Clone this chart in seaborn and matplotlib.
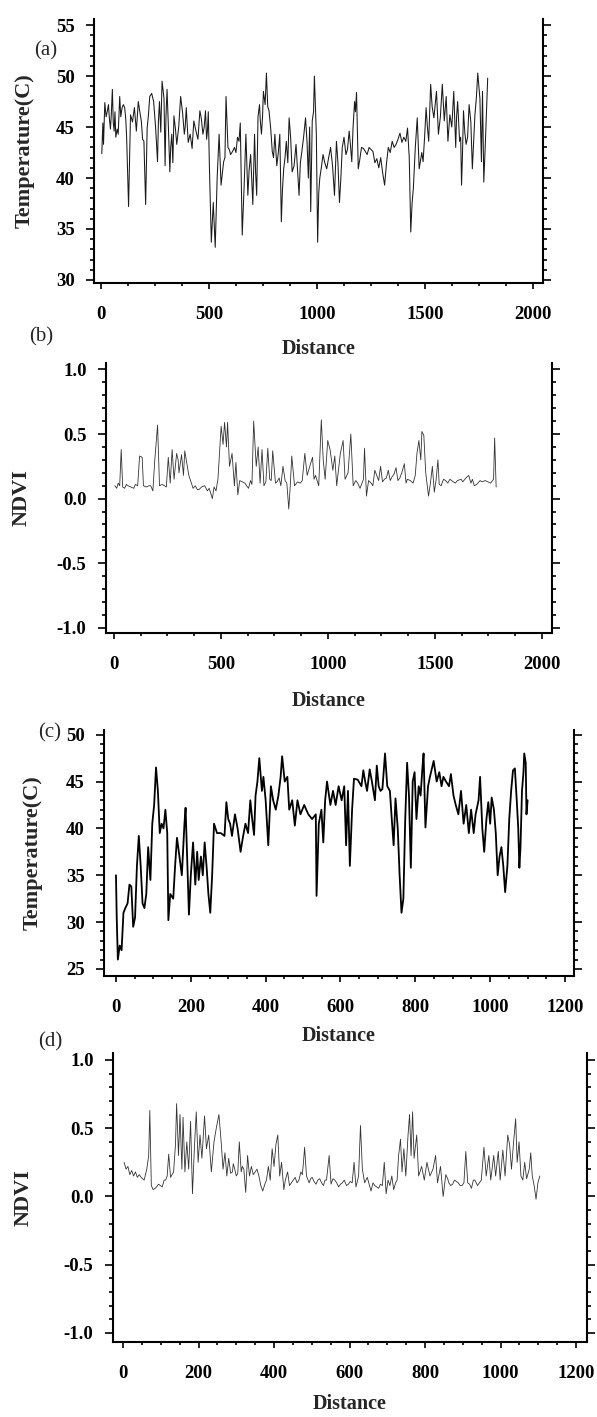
import numpy as np
import pandas as pd
import matplotlib
matplotlib.use("Agg")
import matplotlib.pyplot as plt
from matplotlib.ticker import MultipleLocator, FormatStrFormatter
import seaborn as sns

# ---------------- data ----------------
a_dist = [4,9,12,18,30,39,48,53,61,69,80,87,98,110,119,128,137,155,173,187,199,207,214,226,244,262,271,283,292,297,
          306,319,328,338,351,369,386,395,413,422,440,458,472,484,493,502,511,520,529,538,547,556,568,579,588,600,618,632,645,654,
          663,671,680,693,703,711,721,734,743,752,760,766,778,793,805,814,828,835,846,858,871,885,903,917,930,947,960,971,978,988,
          997,1003,1013,1028,1045,1063,1081,1090,1104,1117,1134,1149,1161,1174,1183,1191,1206,1224,1241,1259,1277,1295,1313,1330,1348,1366,
          1384,1402,1419,1434,1446,1455,1464,1473,1491,1505,1517,1526,1541,1553,1562,1580,1589,1606,1615,1633,1642,1651,1660,1669,
          1678,1690,1704,1719,1731,1744,1754,1761,1772,1779,1790]
a_temp = [42.4,45.4,43.3,47.4,46.6,45.9,46.2,48.7,44.6,44.0,44.3,48.0,46.9,46.9,44.0,37.2,46.2,46.9,47.5,45.6,43.6,37.4,44.9,48.0,47.5,41.6,47.5,49.5,47.8,41.2,
          48.7,40.6,44.3,46.1,43.3,48.0,44.3,46.9,44.3,42.9,44.6,46.6,44.3,46.6,44.6,41.2,33.7,37.6,33.2,40.0,44.3,39.3,41.6,48.0,43.0,42.3,43.0,44.0,45.4,34.4,
          39.3,44.3,38.3,42.3,37.4,44.3,38.3,47.2,44.3,48.5,47.2,50.3,46.6,42.6,44.3,41.2,44.3,35.7,40.9,43.6,45.9,40.6,43.3,38.3,42.6,45.9,40.0,36.7,45.6,50.0,
          44.3,33.7,40.0,42.3,40.9,43.0,38.3,43.6,37.6,43.0,42.3,44.6,41.6,47.5,48.4,40.9,43.0,42.6,43.0,42.6,41.9,42.0,39.3,43.0,43.6,43.3,
          44.4,44.0,44.9,34.7,39.0,43.0,45.9,40.9,41.6,46.9,43.6,49.2,45.9,48.5,44.3,49.2,45.6,43.6,46.2,48.5,43.0,47.5,43.6,39.3,
          46.6,43.3,47.2,40.9,46.2,50.3,47.8,41.6,39.6,43.3,49.8]
# extra small wiggles read between the main points of panel (a)
a_dist_extra = [24,35,44,57,65,75,92,104,115,146,164,180,193,220,235,253,266,277,301,312,323,333,345,360,378,390,404,430,449,465,
                478,489,497,574,594,609,625,639,686,716,727,738,748,772,786,799,821,840,852,865,878,894,910,923,938,954,966,984,1008,1020,
                1036,1054,1072,1097,1110,1125,1141,1155,1167,1178,1198,1215,1232,1250,1268,1286,1304,1322,1339,1357,1375,1393,1411,1427,1440,1485,
                1498,1511,1533,1547,1571,1598,1624,1646,1665,1673,1684,1697,1712,1725,1738,1766]
a_temp_extra = [46.0,47.2,44.8,45.5,46.5,44.8,46.0,47.2,45.8,45.5,44.6,46.5,43.8,46.2,48.3,45.0,45.5,44.5,46.0,45.2,43.0,41.5,44.8,45.0,46.4,45.0,43.5,45.6,43.8,45.8,
                45.0,43.8,46.5,42.0,42.8,42.6,42.5,43.6,40.8,40.5,46.0,45.5,46.0,47.0,44.8,42.0,42.5,38.8,42.0,41.5,44.0,41.2,40.8,41.5,44.0,43.5,45.0,46.5,38.5,41.0,
                41.5,42.0,41.2,41.5,39.8,44.0,42.8,43.2,45.0,46.5,41.8,42.9,42.3,42.8,41.5,41.0,40.5,41.5,42.5,43.0,43.8,43.5,43.6,42.0,37.5,42.5,
                44.0,45.0,47.0,47.2,46.0,48.0,45.0,46.0,44.0,42.0,44.5,44.0,45.5,43.5,48.0,48.5]

b_dist = [4,13,27,34,41,66,93,111,120,132,138,164,182,191,204,213,236,254,263,272,281,293,304,316,325,331,343,358,370,397,
          424,451,460,477,486,501,510,517,526,531,540,552,563,570,579,588,612,629,638,653,665,674,683,692,701,719,728,742,755,772,
          790,808,817,831,844,871,892,903,915,928,942,957,969,978,987,999,1010,1023,1032,1041,1058,1071,1080,1094,1107,1118,1139,1166,1171,1180,
          1202,1219,1237,1246,1264,1282,1300,1318,1336,1357,1371,1398,1416,1425,1434,1439,1448,1457,1470,1479,1488,1497,1514,1529,1550,1586,
          1622,1658,1684,1711,1747,1774,1779,1786]
b_ndvi = [0.10,0.08,0.10,0.38,0.09,0.10,0.08,0.10,0.33,0.32,0.10,0.10,0.06,0.30,0.57,0.10,0.10,0.32,0.12,0.38,0.15,0.35,0.20,0.34,0.18,0.37,0.25,0.14,0.08,0.07,
          0.10,0.05,0.00,0.06,0.15,0.56,0.42,0.59,0.40,0.59,0.25,0.35,0.10,0.28,0.03,0.14,0.12,0.08,0.14,0.60,0.25,0.40,0.12,0.38,0.10,0.39,0.15,0.37,0.12,0.16,
          0.25,0.12,-0.08,0.33,0.10,0.12,0.35,0.18,0.25,0.32,0.18,0.10,0.61,0.30,0.15,0.45,0.38,0.22,0.33,0.10,0.35,0.45,0.15,0.20,0.50,0.10,0.12,0.15,0.39,0.02,
          0.12,0.22,0.14,0.25,0.15,0.22,0.17,0.24,0.16,0.27,0.15,0.12,0.35,0.45,0.30,0.52,0.49,0.20,0.02,0.12,0.25,0.05,0.30,0.10,0.14,0.13,
          0.15,0.18,0.10,0.14,0.13,0.15,0.47,0.09]
b_dist_extra = [20,50,58,80,100,150,172,225,245,300,350,380,390,410,437,445,468,600,620,645,710,735,762,780,800,824,858,880,935,1130,
                1150,1190,1210,1228,1255,1273,1291,1309,1327,1345,1365,1385,1408,1505,1520,1540,1560,1570,1595,1605,1630,1645,1668,1675,1695,1720,1735,1760]
b_ndvi_extra = [0.12,0.08,0.11,0.09,0.11,0.09,0.10,0.11,0.09,0.30,0.18,0.10,0.07,0.09,0.06,0.08,0.09,0.13,0.10,0.11,0.13,0.14,0.13,0.10,0.14,0.10,0.13,0.14,0.15,0.14,
                0.08,0.14,0.10,0.18,0.13,0.16,0.14,0.19,0.14,0.20,0.12,0.14,0.18,0.14,0.11,0.15,0.12,0.15,0.12,0.14,0.13,0.16,0.12,0.15,0.11,0.13,0.14,0.12]

c_dist = [0,2,5,10,15,20,25,31,36,41,46,51,56,61,66,71,76,81,86,92,97,102,107,112,117,122,127,132,137,140,
          145,153,158,163,168,176,183,186,190,195,200,206,212,217,221,227,232,237,242,247,252,257,262,270,280,290,295,300,305,310,
          318,325,333,339,346,353,359,364,369,373,378,383,390,394,400,407,414,420,427,434,440,444,451,458,463,471,478,485,493,503,
          514,524,534,536,542,549,554,559,564,573,580,587,595,603,610,615,620,625,631,636,646,656,661,666,671,678,684,692,697,702,
          707,712,719,725,732,737,742,747,753,758,763,768,773,778,783,788,793,798,803,809,814,819,822,827,834,839,849,857,864,870,
          875,882,890,895,902,908,915,922,929,936,943,949,956,961,969,973,979,984,990,995,1000,1004,1010,1015,1020,1025,1030,1035,1040,1046,
          1051,1056,1061,1066,1071,1075,1078,1081,1085,1089,1091,1095,1097,1100]
c_temp = [35.0,30.5,26.0,27.5,27.0,31.0,31.5,32.0,34.0,33.8,29.5,30.5,36.0,39.2,36.0,32.0,31.5,33.0,38.0,34.5,40.5,42.5,46.5,44.0,39.5,40.5,40.0,42.0,39.5,30.2,
          33.0,32.5,36.0,39.0,37.5,35.0,40.5,42.2,37.0,30.8,35.0,38.5,34.0,37.5,34.5,37.0,35.0,38.5,36.0,33.0,31.0,35.0,40.5,39.5,39.5,39.2,42.8,41.0,40.5,39.2,
          41.5,40.0,37.5,39.0,40.5,39.5,43.0,41.0,39.3,43.5,45.0,47.5,44.0,45.5,43.0,38.2,44.5,43.0,42.0,43.5,45.5,47.7,45.0,45.5,42.0,43.0,40.3,43.0,41.5,42.5,
          41.5,41.0,41.5,32.8,40.5,42.0,38.5,43.0,45.0,42.5,44.0,42.5,44.5,43.0,44.5,38.2,44.0,36.0,42.0,45.3,45.2,44.5,46.2,45.0,44.0,46.3,45.0,43.0,46.7,44.5,
          44.0,44.2,48.0,44.5,44.0,41.0,38.2,43.2,40.0,35.0,31.0,32.5,41.0,47.0,43.5,35.8,45.0,46.0,41.0,44.5,43.5,46.5,48.0,40.1,44.5,45.5,47.2,45.0,46.0,44.5,
          45.5,45.0,44.5,45.8,43.5,42.5,41.5,44.0,40.5,42.5,39.5,42.0,39.5,41.5,43.0,45.5,40.0,37.5,41.0,42.8,40.5,43.3,42.0,39.5,35.0,37.0,38.0,36.0,33.2,36.0,
          41.0,44.0,46.2,46.4,43.0,40.0,35.8,38.0,44.0,46.0,48.0,47.0,41.5,43.0]

d_dist = [3,8,13,18,23,28,33,38,48,56,63,68,71,75,80,89,99,109,117,121,126,134,139,142,147,151,156,159,164,169,
          174,179,184,189,194,199,204,209,216,221,227,234,241,247,254,260,265,270,275,280,285,292,300,308,313,320,325,330,335,340,
          350,360,365,370,377,385,390,395,400,405,410,415,420,426,433,441,451,461,471,478,481,486,493,501,511,521,531,539,546,551,
          561,571,581,592,602,612,617,624,629,634,640,647,657,667,677,687,692,697,702,712,722,730,735,739,744,749,755,759,763,767,
          771,778,783,791,798,805,813,821,828,833,841,848,855,863,873,883,893,903,908,913,923,932,939,949,956,962,969,974,982,987,
          994,999,1006,1012,1019,1024,1029,1034,1040,1044,1049,1054,1059,1064,1069,1076,1080,1084,1089,1094,1099,1104]
d_ndvi = [0.25,0.20,0.22,0.16,0.19,0.15,0.18,0.14,0.14,0.12,0.20,0.30,0.63,0.08,0.05,0.07,0.08,0.12,0.15,0.31,0.14,0.18,0.38,0.68,0.30,0.60,0.20,0.58,0.18,0.40,
          0.20,0.55,0.02,0.35,0.62,0.25,0.45,0.28,0.59,0.35,0.45,0.18,0.40,0.50,0.60,0.40,0.20,0.32,0.15,0.28,0.17,0.24,0.15,0.40,0.18,0.20,0.03,0.30,0.15,0.22,
          0.18,0.15,0.08,0.04,0.10,0.22,0.12,0.35,0.22,0.38,0.45,0.15,0.25,0.05,0.15,0.08,0.12,0.10,0.18,0.25,0.36,0.15,0.10,0.14,0.09,0.13,0.08,0.12,0.30,0.09,
          0.12,0.07,0.10,0.08,0.11,0.25,0.07,0.15,0.52,0.20,0.10,0.14,0.04,0.08,0.06,0.08,0.25,0.02,0.12,0.15,0.10,0.30,0.42,0.18,0.35,0.15,0.45,0.60,0.30,0.62,
          0.28,0.45,0.15,0.22,0.12,0.25,0.15,0.20,0.30,0.10,0.22,0.00,0.16,0.10,0.09,0.11,0.08,0.10,0.33,0.10,0.06,0.12,0.08,0.12,0.36,0.15,0.30,0.12,0.30,0.15,
          0.33,0.12,0.34,0.15,0.45,0.38,0.20,0.38,0.57,0.25,0.40,0.15,0.12,0.25,0.13,0.20,0.32,0.15,0.08,-0.02,0.10,0.15]
d_dist_extra = [43,52,85,94,104,113,130,290,296,304,316,345,355,380,430,436,446,456,466,475,497,506,516,526,535,556,566,576,586,597,
                607,652,662,672,682,707,717,726,860,868,878,888,898,918,928,944]
d_ndvi_extra = [0.16,0.13,0.06,0.09,0.07,0.12,0.16,0.18,0.20,0.17,0.22,0.16,0.20,0.12,0.12,0.18,0.10,0.14,0.12,0.16,0.13,0.11,0.12,0.10,0.12,0.13,0.10,0.09,0.12,0.09,
                0.10,0.09,0.10,0.07,0.09,0.08,0.05,0.12,0.13,0.08,0.12,0.10,0.08,0.09,0.12,0.10]

panel_letters = ["(a)", "(b)", "(c)", "(d)"]
x_label = "Distance"
temp_label = "Temperature(C)"
ndvi_label = "NDVI"

# ---------------- style ----------------
sns.set_style("ticks")
plt.rcParams["font.family"] = ["Liberation Serif", "DejaVu Serif"]
plt.rcParams["font.weight"] = "bold"
plt.rcParams["axes.unicode_minus"] = False

W, H = 597, 1417
fig = plt.figure(figsize=(W / 100, H / 100), dpi=100)


def px_axes(left, right, top, bottom):
    return fig.add_axes([left / W, 1 - bottom / H, (right - left) / W, (bottom - top) / H])


def frame(xs, ys, xe=None, ye=None):
    df = pd.DataFrame({"Distance": list(xs), "Value": list(ys)})
    if xe is not None:
        df = pd.concat([df, pd.DataFrame({"Distance": xe, "Value": ye})], ignore_index=True)
    return df.sort_values("Distance", kind="stable").reset_index(drop=True)


panels = [
    dict(box=(94, 543, 19, 283), df=frame(a_dist, a_temp, a_dist_extra, a_temp_extra),
         xlim=(-32, 2046), ylim=(29.7, 55.6),
         xmaj=500, xmin=125, ymaj=5, ymin=1, fmt="%d", ylab=temp_label, lw=0.75, col="#1a1a1a",
         ylab_x=25, xlab_y=349, letter=(46, 51)),
    dict(box=(106, 552, 363, 633), df=frame(b_dist, b_ndvi, b_dist_extra, b_ndvi_extra),
         xlim=(-37, 2047), ylim=(-1.04, 1.05),
         xmaj=500, xmin=125, ymaj=0.5, ymin=0.1, fmt="%.1f", ylab=ndvi_label, lw=0.6, col="#333333",
         ylab_x=22, xlab_y=701, letter=(41, 337)),
    dict(box=(104, 574, 730, 976), df=frame(c_dist, c_temp),
         xlim=(-32, 1224), ylim=(24.25, 50.5),
         xmaj=200, xmin=50, ymaj=5, ymin=1, fmt="%d", ylab=temp_label, lw=1.3, col="#000000",
         ylab_x=33, xlab_y=1036, letter=(50, 733)),
    dict(box=(113, 587, 1053, 1342), df=frame(d_dist, d_ndvi, d_dist_extra, d_ndvi_extra),
         xlim=(-26.5, 1229), ylim=(-1.066, 1.051),
         xmaj=200, xmin=50, ymaj=0.5, ymin=0.1, fmt="%.1f", ylab=ndvi_label, lw=0.6, col="#333333",
         ylab_x=24, xlab_y=1404, letter=(50, 1042)),
]

for p, letter in zip(panels, panel_letters):
    left, right, top, bottom = p["box"]
    ax = px_axes(left, right, top, bottom)
    sns.lineplot(data=p["df"], x="Distance", y="Value", ax=ax, color=p["col"],
                 linewidth=p["lw"], estimator=None, sort=False)
    ax.set_xlim(*p["xlim"])
    ax.set_ylim(*p["ylim"])
    ax.xaxis.set_major_locator(MultipleLocator(p["xmaj"]))
    ax.xaxis.set_minor_locator(MultipleLocator(p["xmin"]))
    ax.yaxis.set_major_locator(MultipleLocator(p["ymaj"]))
    ax.yaxis.set_minor_locator(MultipleLocator(p["ymin"]))
    ax.yaxis.set_major_formatter(FormatStrFormatter(p["fmt"]))
    ax.xaxis.set_major_formatter(FormatStrFormatter("%d"))

    for s in ["left", "bottom", "right"]:
        ax.spines[s].set_visible(True)
        ax.spines[s].set_linewidth(1.5)
        ax.spines[s].set_color("black")
    ax.spines["top"].set_visible(False)

    ax.tick_params(axis="both", which="both", direction="out", colors="black", width=1.2)
    ax.tick_params(axis="y", which="both", left=True, right=True, labelright=False)
    ax.tick_params(axis="x", which="both", bottom=True, top=False)
    ax.tick_params(axis="y", which="major", length=6, pad=8, labelsize=13.5)
    ax.tick_params(axis="y", which="minor", length=3)
    ax.tick_params(axis="x", which="major", length=4.5, pad=12, labelsize=13.5)
    ax.tick_params(axis="x", which="minor", length=2.5)
    for t in ax.get_xticklabels() + ax.get_yticklabels():
        t.set_fontweight("bold")

    ax.set_xlabel(x_label, fontsize=14.5, fontweight="bold")
    ax.set_ylabel(p["ylab"], fontsize=16, fontweight="bold")
    ax.xaxis.label.set_verticalalignment("center")
    ax.yaxis.label.set_verticalalignment("center")
    ax.xaxis.set_label_coords(0.5, (bottom - p["xlab_y"]) / (bottom - top))
    ax.yaxis.set_label_coords((p["ylab_x"] - left) / (right - left), 0.5)
    ax.grid(False)

    lx, ly = p["letter"]
    fig.text(lx / W, 1 - ly / H, letter, fontsize=15, fontweight="normal",
             ha="center", va="center", family=["Liberation Serif", "DejaVu Serif"])

fig.savefig("out.png", dpi=100)
